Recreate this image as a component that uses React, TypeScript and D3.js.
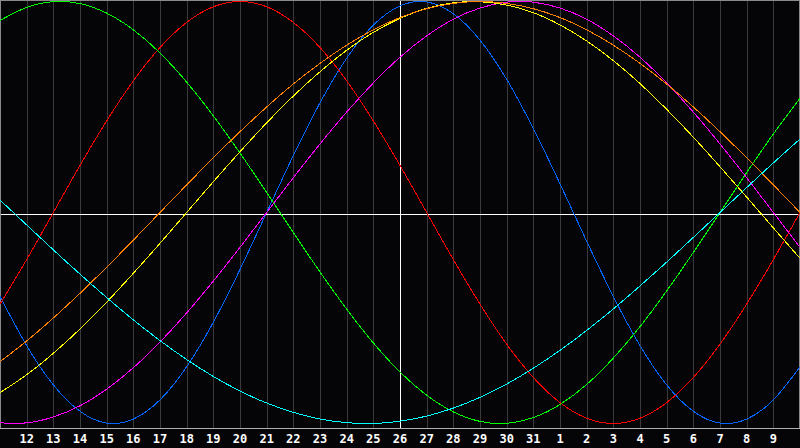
import { useEffect, useRef } from "react";
import * as d3 from "d3";

// day labels along the bottom, one per column (first and last are not printed)
const DAYS = [11, 12, 13, 14, 15, 16, 17, 18, 19, 20, 21, 22, 23, 24, 25, 26, 27, 28, 29, 30, 31, 1, 2, 3, 4, 5, 6, 7, 8, 9, 10];
const TODAY = 15; // index of the highlighted day (26)

// daily readings of each cycle, -1 .. 1
const PHYSICAL = [-0.398, -0.631, -0.817, -0.942, -0.998, -0.979, -0.888, -0.731, -0.520, -0.270, 0, 0.270, 0.520, 0.731, 0.888, 0.979, 0.998, 0.942, 0.817, 0.631, 0.398, 0.136, -0.136, -0.398, -0.631, -0.817, -0.942, -0.998, -0.979, -0.888, -0.731];
const EMOTIONAL = [-0.434, -0.223, 0, 0.223, 0.434, 0.624, 0.782, 0.901, 0.975, 1, 0.975, 0.901, 0.782, 0.624, 0.434, 0.223, 0, -0.223, -0.434, -0.624, -0.782, -0.901, -0.975, -1, -0.975, -0.901, -0.782, -0.624, -0.434, -0.223, 0];
const INTELLECTUAL = [0.910, 0.972, 0.999, 0.990, 0.945, 0.866, 0.756, 0.618, 0.458, 0.282, 0.095, -0.095, -0.282, -0.458, -0.618, -0.756, -0.866, -0.945, -0.990, -0.999, -0.972, -0.910, -0.815, -0.690, -0.541, -0.372, -0.189, 0, 0.189, 0.372, 0.541];
const INTUITIVE = [-0.997, -0.997, -0.969, -0.916, -0.837, -0.736, -0.614, -0.476, -0.325, -0.165, 0, 0.165, 0.325, 0.476, 0.614, 0.736, 0.837, 0.916, 0.969, 0.997, 0.997, 0.969, 0.916, 0.837, 0.736, 0.614, 0.476, 0.325, 0.165, 0, -0.165];
const AESTHETIC = [-0.854, -0.769, -0.667, -0.552, -0.425, -0.288, -0.146, 0, 0.146, 0.288, 0.425, 0.552, 0.667, 0.769, 0.854, 0.920, 0.968, 0.994, 0.999, 0.983, 0.947, 0.889, 0.813, 0.720, 0.611, 0.489, 0.357, 0.217, 0.073, -0.073, -0.217];
const AWARENESS = [-0.707, -0.609, -0.5, -0.383, -0.259, -0.131, 0, 0.131, 0.259, 0.383, 0.5, 0.609, 0.707, 0.793, 0.866, 0.924, 0.966, 0.991, 1, 0.991, 0.966, 0.924, 0.866, 0.793, 0.707, 0.609, 0.5, 0.383, 0.259, 0.131, 0];
const SPIRITUAL = [0.059, -0.059, -0.177, -0.292, -0.403, -0.509, -0.607, -0.697, -0.777, -0.846, -0.903, -0.947, -0.979, -0.996, -1.0, -0.989, -0.965, -0.927, -0.876, -0.813, -0.738, -0.653, -0.559, -0.457, -0.348, -0.235, -0.118, 0, 0.118, 0.235, 0.348];

const SERIES = [
  { name: "Physical", values: PHYSICAL, color: "#0066ff" },
  { name: "Emotional", values: EMOTIONAL, color: "#ff0000" },
  { name: "Intellectual", values: INTELLECTUAL, color: "#00ff00" },
  { name: "Intuitive", values: INTUITIVE, color: "#ff00ff" },
  { name: "Aesthetic", values: AESTHETIC, color: "#ffff00" },
  { name: "Awareness", values: AWARENESS, color: "#ff8000" },
  { name: "Spiritual", values: SPIRITUAL, color: "#00ffff" },
];

export default function App() {
  const svgRef = useRef<SVGSVGElement>(null);

  useEffect(() => {
    const W = 800, H = 448;
    const plotH = 428;
    const svg = d3.select(svgRef.current).attr("width", W).attr("height", H);
    svg.selectAll("*").remove();

    const x = d3.scaleLinear().domain([0, DAYS.length - 1]).range([0, W]);
    const y = d3.scaleLinear().domain([-1, 1]).range([423.5, 1.5]);

    svg.append("rect").attr("width", W).attr("height", H).attr("fill", "#050508");

    // day grid
    const idx = d3.range(1, DAYS.length - 1);
    svg.append("g").selectAll("line").data(idx).join("line")
      .attr("x1", d => Math.round(x(d)) + 0.5).attr("x2", d => Math.round(x(d)) + 0.5)
      .attr("y1", 0).attr("y2", plotH)
      .attr("stroke", d => d === TODAY ? "#ffffff" : "#3a3a3a")
      .attr("shape-rendering", "crispEdges");

    // zero line
    svg.append("line")
      .attr("x1", 0).attr("x2", W)
      .attr("y1", Math.round(y(0)) + 1.5).attr("y2", Math.round(y(0)) + 1.5)
      .attr("stroke", "#ffffff").attr("shape-rendering", "crispEdges");

    // frame
    svg.append("rect").attr("x", 0.5).attr("y", 0.5).attr("width", W - 1).attr("height", plotH - 0.5)
      .attr("fill", "none").attr("stroke", "#8a8a8a").attr("shape-rendering", "crispEdges");
    svg.append("line").attr("x1", 0).attr("x2", W).attr("y1", plotH + 0.5).attr("y2", plotH + 0.5)
      .attr("stroke", "#b0b0b0").attr("shape-rendering", "crispEdges");

    const line = d3.line<number>().x((_, i) => x(i)).y(v => y(v)).curve(d3.curveNatural);
    svg.append("g").selectAll("path").data(SERIES).join("path")
      .attr("d", s => line(s.values))
      .attr("fill", "none")
      .attr("stroke", s => s.color)
      .attr("stroke-width", 1)
      .attr("shape-rendering", "crispEdges");

    svg.append("g").selectAll("text").data(idx).join("text")
      .attr("x", d => x(d)).attr("y", 443)
      .attr("text-anchor", "middle")
      .attr("fill", "#ffffff")
      .attr("font-family", "'DejaVu Sans Mono', monospace")
      .attr("font-weight", "bold")
      .attr("font-size", 12)
      .text(d => String(DAYS[d]));
  }, []);

  return (
    <div style={{ position: "fixed", left: 0, top: 0, width: 800, height: 448, background: "#050508" }}>
      <svg ref={svgRef} style={{ display: "block" }} />
    </div>
  );
}
